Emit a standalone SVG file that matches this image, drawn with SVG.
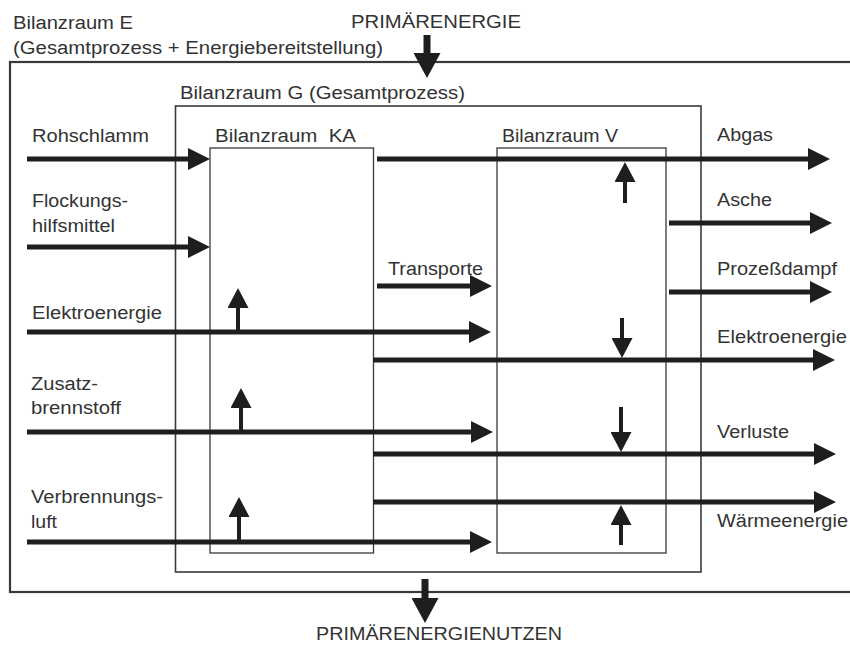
<svg xmlns="http://www.w3.org/2000/svg" width="850" height="646" viewBox="0 0 850 646">
<style>
.t{font-family:"Liberation Sans",Arial,sans-serif;font-size:18px;fill:#333}
.box{fill:none;stroke:#3a3a3a}
.h{stroke:#1e1e1e;stroke-width:5;fill:none;marker-end:url(#ah)}
.v{stroke:#1e1e1e;stroke-width:4;fill:none;marker-end:url(#av)}
.b{stroke:#1e1e1e;stroke-width:7;fill:none;marker-end:url(#ab)}
</style>
<defs>
<marker id="ah" markerUnits="userSpaceOnUse" markerWidth="22" markerHeight="22" viewBox="0 0 22 22" refX="12" refY="11" orient="auto"><path d="M0,0 L22,11 L0,22 z" fill="#1e1e1e"/></marker>
<marker id="av" markerUnits="userSpaceOnUse" markerWidth="20" markerHeight="21" viewBox="0 0 20 21" refX="10" refY="10.5" orient="auto"><path d="M0,0 L20,10.5 L0,21 z" fill="#1e1e1e"/></marker>
<marker id="ab" markerUnits="userSpaceOnUse" markerWidth="25" markerHeight="27" viewBox="0 0 25 27" refX="12" refY="13.5" orient="auto"><path d="M0,0 L25,13.5 L0,27 z" fill="#1e1e1e"/></marker>
</defs>
<rect width="850" height="646" fill="#fff"/>

<g id="bilanzraum-E">
<rect class="box" x="10" y="62" width="850" height="530" stroke-width="2.2"/>
<text class="t" x="13" y="29" textLength="120" lengthAdjust="spacingAndGlyphs">Bilanzraum E</text>
<text class="t" x="13" y="54" textLength="370" lengthAdjust="spacingAndGlyphs">(Gesamtprozess + Energiebereitstellung)</text>
</g>
<g id="bilanzraum-G">
<rect class="box" x="175.5" y="106" width="525.5" height="466" stroke-width="1.6"/>
<text class="t" x="180" y="99" textLength="285" lengthAdjust="spacingAndGlyphs">Bilanzraum G (Gesamtprozess)</text>
</g>
<g id="bilanzraum-KA">
<rect class="box" x="210" y="148" width="163.5" height="405" stroke-width="1.3"/>
<text class="t" x="215" y="142" textLength="141" lengthAdjust="spacingAndGlyphs" xml:space="preserve">Bilanzraum  KA</text>
</g>
<g id="bilanzraum-V">
<rect class="box" x="497" y="148" width="169" height="405" stroke-width="1.3"/>
<text class="t" x="502" y="142" textLength="116" lengthAdjust="spacingAndGlyphs">Bilanzraum V</text>
</g>

<g id="connectors">
<line class="b" x1="427" y1="35" x2="427" y2="65"/>
<line class="b" x1="425" y1="579" x2="425" y2="610"/>
<line class="h" x1="27" y1="159" x2="200" y2="159"/>
<line class="h" x1="27" y1="247" x2="200" y2="247"/>
<line class="h" x1="27" y1="332" x2="481" y2="332"/>
<line class="h" x1="27" y1="432" x2="483" y2="432"/>
<line class="h" x1="27" y1="542" x2="482" y2="542"/>
<line class="h" x1="377" y1="286" x2="482" y2="286"/>
<line class="h" x1="377" y1="159" x2="820" y2="159"/>
<line class="h" x1="669" y1="223" x2="822" y2="223"/>
<line class="h" x1="669" y1="292" x2="822" y2="292"/>
<line class="h" x1="373" y1="360" x2="825" y2="360"/>
<line class="h" x1="373" y1="454" x2="826" y2="454"/>
<line class="h" x1="373" y1="502" x2="826" y2="502"/>
<line class="v" x1="238" y1="332" x2="238" y2="298"/>
<line class="v" x1="241" y1="432" x2="241" y2="398"/>
<line class="v" x1="239" y1="542" x2="239" y2="507"/>
<line class="v" x1="625" y1="203" x2="625" y2="172"/>
<line class="v" x1="622" y1="318" x2="622" y2="348"/>
<line class="v" x1="621" y1="407" x2="621" y2="442"/>
<line class="v" x1="621" y1="545" x2="621" y2="515"/>
</g>

<g id="labels">
<text class="t" x="351" y="28" textLength="170" lengthAdjust="spacingAndGlyphs">PRIMÄRENERGIE</text>
<text class="t" x="316" y="640" textLength="246" lengthAdjust="spacingAndGlyphs">PRIMÄRENERGIENUTZEN</text>
<text class="t" x="32" y="142" textLength="117" lengthAdjust="spacingAndGlyphs">Rohschlamm</text>
<text class="t" x="32" y="207" textLength="96" lengthAdjust="spacingAndGlyphs">Flockungs-</text>
<text class="t" x="32" y="232" textLength="83" lengthAdjust="spacingAndGlyphs">hilfsmittel</text>
<text class="t" x="32" y="319" textLength="130" lengthAdjust="spacingAndGlyphs">Elektroenergie</text>
<text class="t" x="31" y="390" textLength="67" lengthAdjust="spacingAndGlyphs">Zusatz-</text>
<text class="t" x="31" y="414" textLength="90" lengthAdjust="spacingAndGlyphs">brennstoff</text>
<text class="t" x="31" y="503" textLength="132" lengthAdjust="spacingAndGlyphs">Verbrennungs-</text>
<text class="t" x="31" y="528" textLength="26" lengthAdjust="spacingAndGlyphs">luft</text>
<text class="t" x="388" y="275" textLength="95" lengthAdjust="spacingAndGlyphs">Transporte</text>
<text class="t" x="717" y="141" textLength="56" lengthAdjust="spacingAndGlyphs">Abgas</text>
<text class="t" x="717" y="206" textLength="55" lengthAdjust="spacingAndGlyphs">Asche</text>
<text class="t" x="717" y="275" textLength="120" lengthAdjust="spacingAndGlyphs">Prozeßdampf</text>
<text class="t" x="717" y="343" textLength="130" lengthAdjust="spacingAndGlyphs">Elektroenergie</text>
<text class="t" x="717" y="438" textLength="72" lengthAdjust="spacingAndGlyphs">Verluste</text>
<text class="t" x="717" y="527" textLength="131" lengthAdjust="spacingAndGlyphs">Wärmeenergie</text>
</g>
</svg>
